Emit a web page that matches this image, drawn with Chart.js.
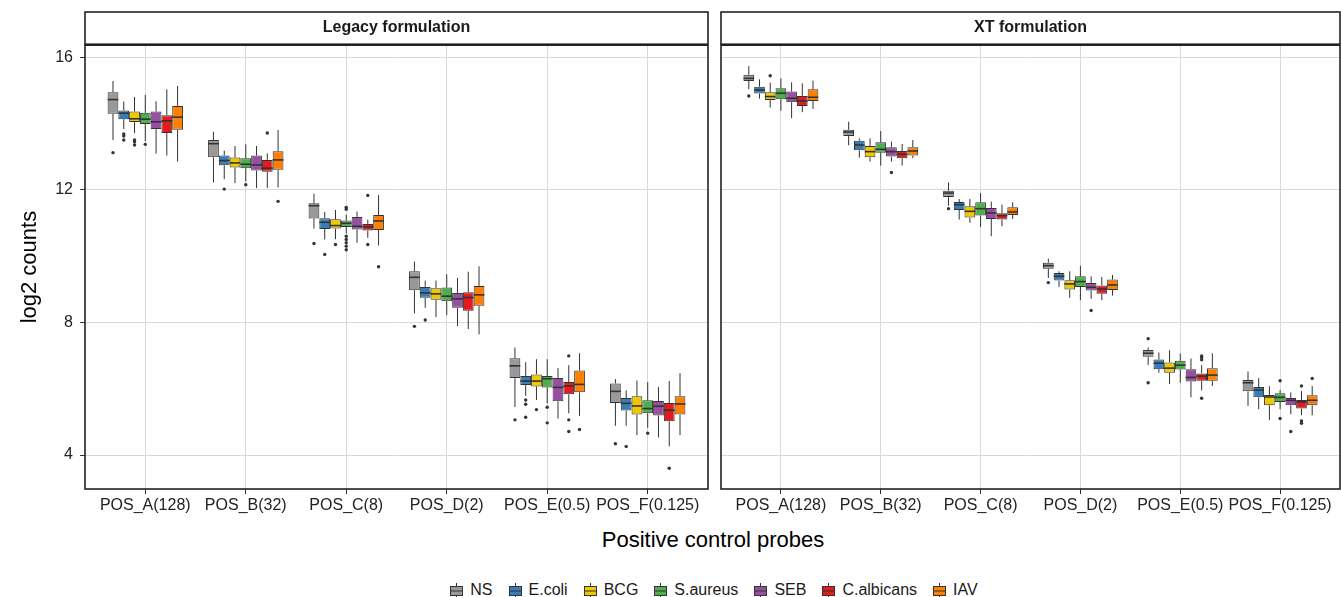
<!DOCTYPE html>
<html>
<head>
<meta charset="utf-8">
<script src="https://cdn.jsdelivr.net/npm/chart.js@4.4.1/dist/chart.umd.min.js"></script>
<style>
  html, body { margin: 0; padding: 0; background: #fff; overflow: hidden; }
  #wrap { position: relative; width: 1341px; height: 597px; font-family: "Liberation Sans", Arial, sans-serif; }
  #left { position: absolute; left: 0; top: 0; }
  #right { position: absolute; left: 712px; top: 0; }
  #xtitle { position: absolute; left: 85px; width: 1256px; top: 527px; text-align: center; font-size: 22px; color: #000; }
  #legend { position: absolute; left: 85px; width: 1256px; top: 581px; display: flex; justify-content: center; align-items: center; font-size: 16px; color: #1a1a1a; }
  .item { display: flex; align-items: center; margin: 0 7px; }
  .item canvas { margin-right: 5px; }
</style>
</head>
<body>
<div id="wrap">
  <canvas id="left" width="712" height="520"></canvas>
  <canvas id="right" width="629" height="520"></canvas>
  <div id="xtitle">Positive control probes</div>
  <div id="legend"></div>
</div>
<script>
const probes = ['POS_A(128)', 'POS_B(32)', 'POS_C(8)', 'POS_D(2)', 'POS_E(0.5)', 'POS_F(0.125)'];
const species = ['NS', 'E.coli', 'BCG', 'S.aureus', 'SEB', 'C.albicans', 'IAV'];
const colors = ['#999999', '#377EB8', '#F0C800', '#4DAF4A', '#984EA3', '#E41A1C', '#FF7F00'];
const yTicks = [4, 8, 12, 16];

// one row per probe: [lower whisker, Q1, median, Q3, upper whisker]
const legacyNS     = [[13.50,14.29,14.72,14.94,15.28],[12.22,12.98,13.39,13.50,13.75],[10.83,11.13,11.52,11.59,11.88],[8.27,8.97,9.36,9.54,9.83],[5.45,6.32,6.69,6.92,7.24],[4.88,5.57,5.92,6.16,6.29]];
const legacyEcoli  = [[13.83,14.13,14.31,14.39,14.66],[12.32,12.74,12.88,13.03,13.18],[10.50,10.82,11.02,11.14,11.33],[8.44,8.74,8.89,9.07,9.26],[5.78,6.11,6.23,6.38,6.80],[4.88,5.34,5.56,5.72,5.95]];
const legacyBCG    = [[13.71,14.04,14.14,14.36,14.80],[12.20,12.67,12.81,12.97,13.32],[10.51,10.83,10.92,11.11,11.39],[8.16,8.68,8.86,9.03,9.26],[5.66,6.07,6.23,6.43,6.89],[4.60,5.22,5.48,5.77,6.25]];
const legacySaur   = [[13.47,13.98,14.13,14.32,14.86],[12.25,12.65,12.77,12.95,13.37],[10.68,10.88,10.99,11.07,11.25],[8.22,8.64,8.79,9.05,9.45],[5.56,6.04,6.30,6.38,6.89],[4.82,5.26,5.40,5.65,6.20]];
const legacySEB    = [[13.09,13.83,14.05,14.36,14.67],[12.05,12.58,12.75,13.03,13.32],[10.40,10.80,10.90,11.18,11.34],[7.89,8.44,8.71,8.89,9.34],[5.10,5.62,6.04,6.32,6.62],[4.53,5.19,5.47,5.63,6.05]];
const legacyCalb   = [[13.03,13.71,14.08,14.25,15.03],[12.05,12.54,12.65,12.90,13.10],[10.55,10.77,10.88,10.97,11.10],[7.80,8.35,8.75,8.91,9.53],[5.26,5.83,6.08,6.20,6.71],[4.26,5.02,5.35,5.57,6.23]];
const legacyIAV    = [[12.85,13.81,14.19,14.53,15.13],[12.07,12.60,12.90,13.16,13.80],[10.32,10.79,11.06,11.24,11.84],[7.64,8.50,8.83,9.10,9.69],[5.18,5.89,6.13,6.55,7.07],[4.60,5.22,5.54,5.77,6.47]];

const xtNS     = [[15.03,15.28,15.36,15.47,15.73],[13.34,13.62,13.74,13.81,14.05],[11.52,11.78,11.90,11.97,12.22],[9.34,9.62,9.71,9.80,9.92],[6.72,6.96,7.07,7.17,7.24],[5.48,5.92,6.18,6.26,6.52]];
const xtEcoli  = [[14.75,14.90,15.01,15.11,15.33],[12.97,13.19,13.35,13.48,13.55],[11.10,11.39,11.55,11.63,11.72],[9.07,9.26,9.39,9.49,9.54],[6.48,6.59,6.77,6.88,7.09],[5.38,5.74,5.96,6.05,6.32]];
const xtBCG    = [[14.48,14.71,14.81,14.94,15.23],[12.85,12.98,13.15,13.32,13.55],[11.00,11.16,11.35,11.50,11.72],[8.74,8.99,9.16,9.27,9.54],[6.14,6.48,6.62,6.79,7.16],[5.06,5.50,5.75,5.81,6.08]];
const xtSaur   = [[14.38,14.73,14.91,15.06,15.36],[12.73,13.12,13.22,13.43,13.77],[10.88,11.22,11.43,11.62,11.90],[8.67,9.07,9.23,9.39,9.71],[6.18,6.58,6.71,6.84,7.06],[5.38,5.60,5.74,5.86,5.96]];
const xtSEB    = [[14.16,14.64,14.76,14.96,15.24],[12.85,13.00,13.15,13.28,13.45],[10.60,11.12,11.30,11.45,11.64],[8.71,8.96,9.06,9.19,9.39],[5.74,6.22,6.34,6.59,6.91],[5.23,5.50,5.65,5.72,5.89]];
const xtCalb   = [[14.34,14.53,14.68,14.83,15.21],[12.73,12.95,13.07,13.17,13.38],[10.90,11.10,11.22,11.29,11.55],[8.67,8.86,9.01,9.11,9.37],[5.95,6.24,6.38,6.46,6.71],[5.20,5.40,5.60,5.66,5.93]];
const xtIAV    = [[14.44,14.68,14.79,15.03,15.29],[12.95,13.03,13.17,13.28,13.50],[11.12,11.24,11.33,11.47,11.62],[8.81,8.98,9.13,9.29,9.43],[6.08,6.24,6.41,6.62,7.07],[5.20,5.50,5.65,5.80,6.08]];

// outliers: [species index, probe index, value]
const legacyOutliers = [
  [0,0,13.12],[1,0,13.68],[1,0,13.62],[1,0,13.50],[2,0,13.50],[2,0,13.45],[2,0,13.35],[3,0,13.37],
  [1,1,12.02],[3,1,12.15],[5,1,13.71],[6,1,11.65],
  [0,2,10.38],[1,2,10.05],[2,2,10.35],[3,2,11.47],[3,2,11.41],[3,2,10.60],[3,2,10.50],[3,2,10.40],[3,2,10.30],[3,2,10.19],[5,2,11.83],[5,2,10.35],[6,2,9.68],
  [0,3,7.88],[1,3,8.07],
  [0,4,5.06],[1,4,5.66],[1,4,5.53],[1,4,5.14],[2,4,5.37],[3,4,5.44],[3,4,4.97],[5,4,6.99],[5,4,5.06],[5,4,4.71],[6,4,4.77],
  [0,5,4.34],[1,5,4.26],[3,5,4.66],[5,5,3.60]
];
const xtOutliers = [
  [0,0,14.83],[2,0,15.44],
  [4,1,12.52],
  [0,2,11.43],
  [0,3,9.20],[4,3,8.36],
  [0,4,7.51],[0,4,6.18],[5,4,6.99],[5,4,6.94],[5,4,6.87],[5,4,5.71],
  [3,5,6.24],[3,5,5.10],[4,5,4.71],[5,5,6.08],[5,5,5.03],[5,5,4.96],[6,5,6.31]
];

const legacyStats = [legacyNS, legacyEcoli, legacyBCG, legacySaur, legacySEB, legacyCalb, legacyIAV];
const xtStats = [xtNS, xtEcoli, xtBCG, xtSaur, xtSEB, xtCalb, xtIAV];

const FONT = '"Liberation Sans", Arial, sans-serif';
const INK = '#333333';
const TEXT = '#222222';

const boxPlugin = {
  id: 'boxplot',
  beforeDraw(chart) {
    const { ctx, chartArea } = chart;
    ctx.save();
    ctx.fillStyle = '#ffffff';
    ctx.fillRect(chartArea.left, 12, chartArea.right - chartArea.left, chartArea.top - 12);
    ctx.restore();
  },
  afterDatasetsDraw(chart, args, opts) {
    const { ctx } = chart;
    const y = chart.scales.y;
    ctx.save();
    chart.data.datasets.forEach((ds, d) => {
      chart.getDatasetMeta(d).data.forEach((el, i) => {
        const r = ds.stats[i];
        const half = el.width / 2;
        ctx.strokeStyle = INK;
        ctx.lineWidth = 1;
        ctx.beginPath();
        ctx.moveTo(el.x, y.getPixelForValue(r[3]));
        ctx.lineTo(el.x, y.getPixelForValue(r[4]));
        ctx.moveTo(el.x, y.getPixelForValue(r[1]));
        ctx.lineTo(el.x, y.getPixelForValue(r[0]));
        ctx.stroke();
        ctx.lineWidth = 1.6;
        ctx.beginPath();
        ctx.moveTo(el.x - half, y.getPixelForValue(r[2]));
        ctx.lineTo(el.x + half, y.getPixelForValue(r[2]));
        ctx.stroke();
      });
    });
    ctx.fillStyle = INK;
    (opts.outliers || []).forEach(([s, p, v]) => {
      const el = chart.getDatasetMeta(s).data[p];
      ctx.beginPath();
      ctx.arc(el.x, y.getPixelForValue(v), 1.7, 0, Math.PI * 2);
      ctx.fill();
    });
    ctx.restore();
  },
  afterDraw(chart) {
    const { ctx, chartArea } = chart;
    ctx.save();
    ctx.strokeStyle = '#222222';
    ctx.lineWidth = 1.6;
    ctx.strokeRect(chartArea.left, chartArea.top, chartArea.right - chartArea.left, chartArea.bottom - chartArea.top);
    ctx.strokeRect(chartArea.left, 12, chartArea.right - chartArea.left, chartArea.top - 13);
    ctx.restore();
  }
};

function makePanel(id, title, stats, outliers, isLeft) {
  return new Chart(document.getElementById(id), {
    type: 'bar',
    data: {
      datasets: species.map((name, s) => ({
        label: name,
        data: stats[s].map((r, p) => ({ x: p, y: [r[1], r[3]] })),
        stats: stats[s],
        backgroundColor: colors[s],
        borderColor: INK,
        borderWidth: 1,
        borderSkipped: false,
        categoryPercentage: 0.75,
        barPercentage: 1
      }))
    },
    options: {
      responsive: false,
      animation: false,
      layout: { padding: isLeft ? { top: 12, left: 0, right: 4, bottom: 0 } : { top: 12, left: 9, right: 1, bottom: 0 } },
      plugins: {
        legend: { display: false },
        tooltip: { enabled: false },
        title: {
          display: true,
          text: title,
          fullSize: false,
          color: '#1a1a1a',
          font: { family: FONT, size: 16, weight: 'bold' },
          padding: { top: 6, bottom: 8 }
        },
        boxplot: { outliers }
      },
      scales: {
        x: {
          type: 'linear',
          min: -0.6,
          max: 5.6,
          offset: false,
          afterBuildTicks: s => { s.ticks = probes.map((_, i) => ({ value: i })); },
          afterFit: s => { s.height = 31; },
          ticks: { callback: v => probes[v], color: TEXT, font: { family: FONT, size: 16 }, padding: 2, maxRotation: 0, autoSkip: false },
          grid: { offset: false, color: '#d9d9d9', tickColor: INK, tickLength: 5, lineWidth: 1 },
          border: { display: false }
        },
        y: {
          min: 2.975,
          max: 16.36,
          beginAtZero: false,
          afterBuildTicks: s => { s.ticks = yTicks.map(v => ({ value: v })); },
          afterFit: s => { s.width = isLeft ? 85 : 0; },
          ticks: { display: isLeft, color: TEXT, font: { family: FONT, size: 16 }, padding: 7 },
          grid: { color: '#d9d9d9', tickColor: INK, tickLength: 5, drawTicks: isLeft, lineWidth: 1 },
          border: { display: false },
          title: { display: isLeft, text: 'log2 counts', color: '#000', font: { family: FONT, size: 22 }, padding: { top: 17, bottom: 0 } }
        }
      }
    },
    plugins: [boxPlugin]
  });
}

makePanel('left', 'Legacy formulation', legacyStats, legacyOutliers, true);
makePanel('right', 'XT formulation', xtStats, xtOutliers, false);

// legend with boxplot keys
const legend = document.getElementById('legend');
species.forEach((name, s) => {
  const item = document.createElement('div');
  item.className = 'item';
  const key = document.createElement('canvas');
  key.width = 17; key.height = 17;
  const c = key.getContext('2d');
  c.strokeStyle = INK; c.lineWidth = 1;
  c.beginPath(); c.moveTo(8.5, 1); c.lineTo(8.5, 16); c.stroke();
  c.fillStyle = colors[s];
  c.fillRect(2.5, 4.5, 12, 9);
  c.strokeRect(2.5, 4.5, 12, 9);
  c.beginPath(); c.moveTo(2.5, 9); c.lineTo(14.5, 9); c.stroke();
  item.appendChild(key);
  const label = document.createElement('span');
  label.textContent = name;
  item.appendChild(label);
  legend.appendChild(item);
});
</script>
</body>
</html>
